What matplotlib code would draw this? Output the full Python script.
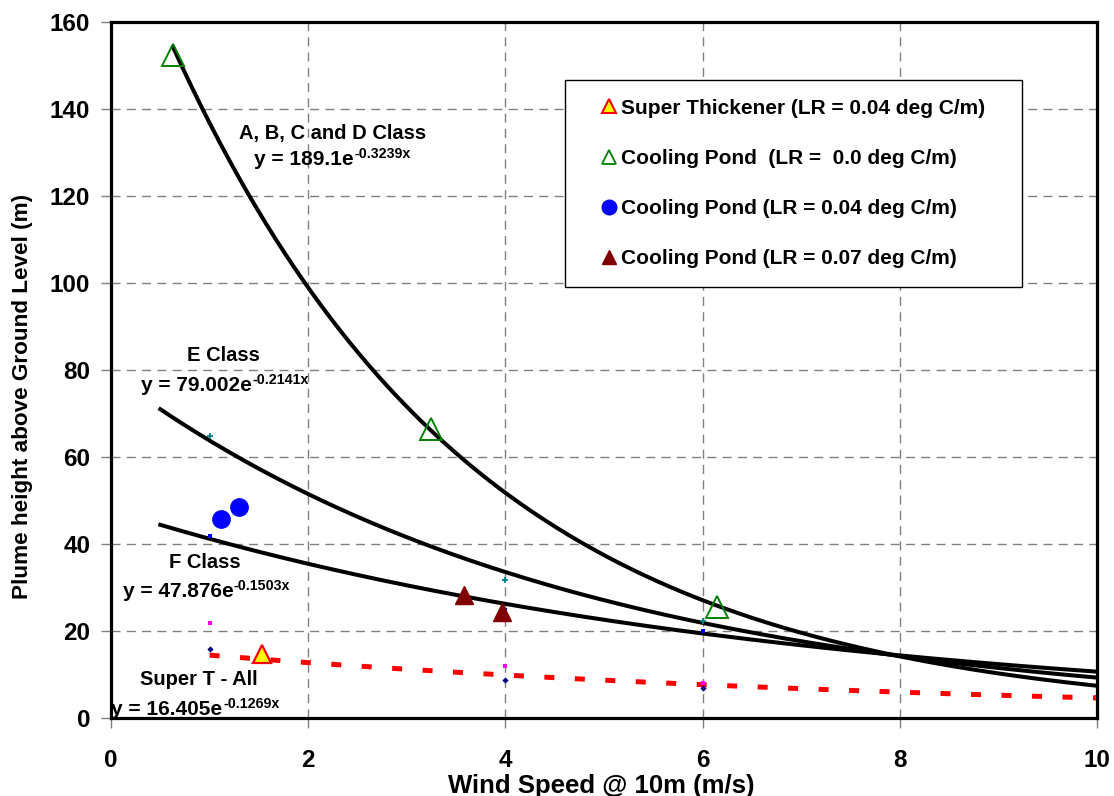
import numpy as np
import matplotlib
matplotlib.use("Agg")
import matplotlib.pyplot as plt
from matplotlib.lines import Line2D

plt.rcParams['font.family'] = ['Liberation Sans', 'DejaVu Sans']
plt.rcParams['font.weight'] = 'bold'

# ---- measured plume heights ----
super_thickener_x = [1.53]
super_thickener_y = [14.8]
pond_lr000_x = [0.63, 3.25, 6.15]
pond_lr000_y = [152.5, 66.5, 25.5]
pond_lr004_x = [1.12, 1.30]
pond_lr004_y = [45.7, 48.4]
pond_lr007_x = [3.58, 3.97]
pond_lr007_y = [28.2, 24.4]

# ---- model points per stability class ----
class_x = [1, 4, 6]
class_e_y = [64.9, 31.8, 22.4]
class_f_y = [41.8, 24.9, 19.9]
super_t_x = [1, 4, 6, 10]
super_t_y = [21.9, 11.9, 8.1, 4.8]
class_g_x = [1, 4, 6]
class_g_y = [15.9, 8.8, 7.0]

# ---- exponential trend lines y = a * exp(b x) ----
fit_names = ["A, B, C and D Class", "E Class", "F Class", "Super T - All"]
fit_a = [189.1, 79.002, 47.876, 16.405]
fit_b = [-0.3239, -0.2141, -0.1503, -0.1269]
fit_a_text = ["189.1", "79.002", "47.876", "16.405"]
fit_xstart = [0.63, 0.5, 0.5, 1.0]
fit_xend = [10, 10, 10, 10]
# class name: centre x, baseline y (data coords)
name_pos = [(2.25, 133.0), (1.14, 82.1), (0.953, 34.4), (0.886, 7.6)]
# equation: point where the base text ends and the exponent starts
eq_pos = [(2.465, 127.1), (1.427, 75.2), (1.240, 27.9), (1.132, 0.69)]

x_ticks = [0, 2, 4, 6, 8, 10]
y_ticks = [0, 20, 40, 60, 80, 100, 120, 140, 160]

fig = plt.figure(figsize=(11.14, 7.96), dpi=100)
ax = fig.add_axes([111 / 1114, 78 / 796, 986 / 1114, 696 / 796])

ax.set_xlim(0, 10)
ax.set_ylim(0, 160)
ax.set_xticks(x_ticks)
ax.set_yticks(y_ticks)
ax.grid(True, color='#808080', linewidth=1.0, linestyle=(0, (6.5, 4.5)))
ax.set_axisbelow(True)
for s in ax.spines.values():
    s.set_linewidth(2.3)
    s.set_color('black')
    s.set_zorder(5)
ax.tick_params(axis='both', direction='out', length=7, width=1, color='#808080',
               labelsize=17.5)
ax.tick_params(axis='y', pad=8)
ax.tick_params(axis='x', pad=15)

# trend lines
for i in range(4):
    xs = np.linspace(fit_xstart[i], fit_xend[i], 300)
    ys = fit_a[i] * np.exp(fit_b[i] * xs)
    if i < 3:
        ax.plot(xs, ys, color='black', linewidth=2.9, zorder=3)
    else:
        ax.plot(xs, ys, color='#FF0000', linewidth=3.6, dashes=(2.0, 4.1),
                dash_capstyle='butt', zorder=3)

# small model points
ax.plot(class_x, class_e_y, linestyle='none', marker='+', ms=5, mew=1.3,
        color='#008080', zorder=4)
ax.plot(class_x, class_f_y, linestyle='none', marker='s', ms=2.5, mew=0,
        color='#0000FF', zorder=4)
ax.plot(super_t_x, super_t_y, linestyle='none', marker='s', ms=3.5, mew=0,
        color='#FF00FF', zorder=4)
ax.plot(class_g_x, class_g_y, linestyle='none', marker='D', ms=3.2, mew=0,
        color='#000080', zorder=4)

# measured points
ax.plot(super_thickener_x, super_thickener_y, linestyle='none', marker='^', ms=13,
        mfc='#FFFF00', mec='#FF0000', mew=1.6, zorder=6)
ax.plot(pond_lr000_x, pond_lr000_y, linestyle='none', marker='^', ms=15.5,
        mfc='none', mec='#008000', mew=1.4, zorder=6)
ax.plot(pond_lr004_x, pond_lr004_y, linestyle='none', marker='o', ms=12.5,
        mfc='#0000FF', mec='#0000FF', zorder=6)
ax.plot(pond_lr007_x, pond_lr007_y, linestyle='none', marker='^', ms=13.5,
        mfc='#800000', mec='#800000', zorder=6)

# trend line labels: name, then "y = a e" with a raised exponent
for i in range(4):
    ax.text(name_pos[i][0], name_pos[i][1], fit_names[i], ha='center',
            va='baseline', fontsize=14.5, fontweight='bold', zorder=7)
    base = ax.text(eq_pos[i][0], eq_pos[i][1], "y = %se" % fit_a_text[i],
                   ha='right', va='baseline', fontsize=15, fontweight='bold',
                   zorder=7)
    ax.annotate("-%.4fx" % -fit_b[i], xy=eq_pos[i], xycoords='data',
                xytext=(0.5, 5.0), textcoords='offset points', ha='left',
                va='baseline', fontsize=10.3, fontweight='bold', zorder=7)

ax.set_xlabel("Wind Speed @ 10m (m/s)", fontsize=18.5, fontweight='bold')
ax.xaxis.set_label_coords(0.497, -0.097)
ax.xaxis.label.set_va('center')
ax.set_ylabel("Plume height above Ground Level (m)", fontsize=16.2,
              fontweight='bold', va='center')
ax.yaxis.set_label_coords(-0.090, 0.462)

# legend
handles = [
    Line2D([], [], linestyle='none', marker='^', ms=10, mfc='#FFFF00',
           mec='#FF0000', mew=1.5),
    Line2D([], [], linestyle='none', marker='^', ms=10, mfc='none',
           mec='#008000', mew=1.3),
    Line2D([], [], linestyle='none', marker='o', ms=10.5, mfc='#0000FF',
           mec='#0000FF'),
    Line2D([], [], linestyle='none', marker='^', ms=10, mfc='#800000',
           mec='#800000'),
]
labels = ["Super Thickener (LR = 0.04 deg C/m)",
          "Cooling Pond  (LR =  0.0 deg C/m)",
          "Cooling Pond (LR = 0.04 deg C/m)",
          "Cooling Pond (LR = 0.07 deg C/m)"]
leg = ax.legend(handles, labels, loc='upper left',
                bbox_to_anchor=(565 / 1114, 1 - 283 / 796, 457 / 1114, 203 / 796),
                bbox_transform=fig.transFigure, mode='expand',
                prop={'size': 15, 'weight': 'bold'}, frameon=True, fancybox=False,
                edgecolor='black', framealpha=1, borderpad=0.9,
                handlelength=2.4, handletextpad=-0.61, labelspacing=1.5,
                borderaxespad=0)
leg.get_frame().set_linewidth(1.0)
leg.set_zorder(8)

fig.savefig("out.png", dpi=100)
